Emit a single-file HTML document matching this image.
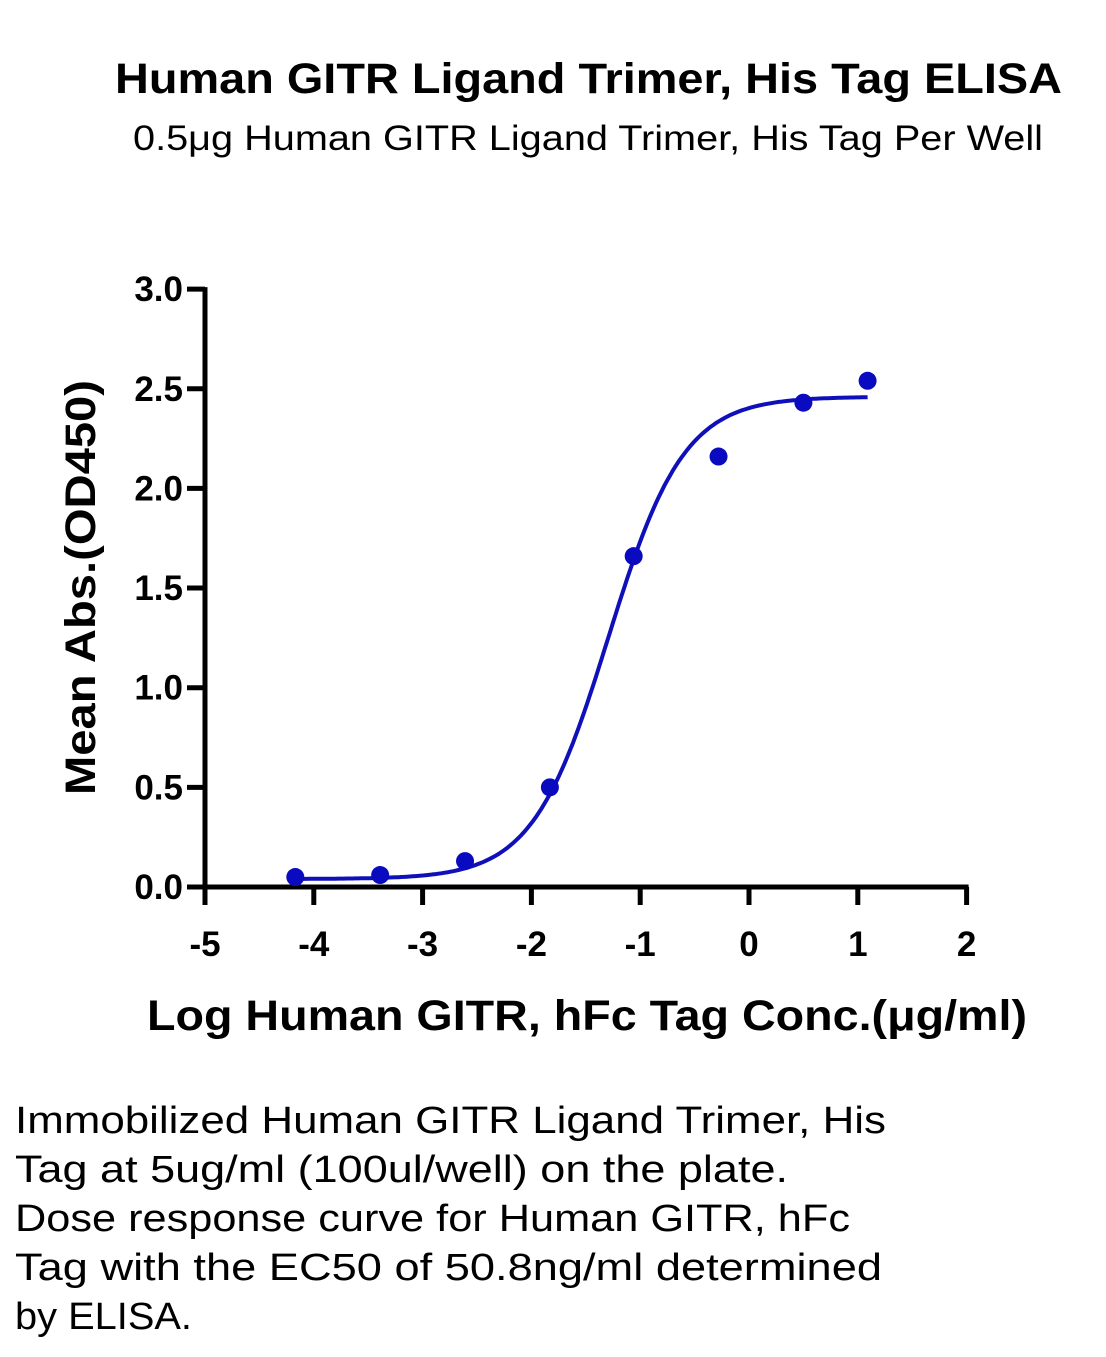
<!DOCTYPE html>
<html><head><meta charset="utf-8"><style>
body{margin:0;background:#fff;}
svg text{font-family:"Liberation Sans",sans-serif;}
</style></head><body>
<svg width="1106" height="1352" viewBox="0 0 1106 1352" xmlns="http://www.w3.org/2000/svg">
<text x="115" y="93" textLength="947" lengthAdjust="spacingAndGlyphs" font-size="43" font-weight="bold">Human GITR Ligand Trimer, His Tag ELISA</text>
<text x="133" y="150" textLength="910" lengthAdjust="spacingAndGlyphs" font-size="35">0.5μg Human GITR Ligand Trimer, His Tag Per Well</text>
<g id="axes"></g>
<g id="plot"></g>
<text x="147" y="1030" textLength="880" lengthAdjust="spacingAndGlyphs" font-size="43" font-weight="bold">Log Human GITR, hFc Tag Conc.(μg/ml)</text>
<text transform="translate(95,795) rotate(-90)" x="0" y="0" textLength="415" lengthAdjust="spacingAndGlyphs" font-size="43" font-weight="bold">Mean Abs.(OD450)</text>
<g font-size="38">
<text x="15" y="1133" textLength="871" lengthAdjust="spacingAndGlyphs">Immobilized Human GITR Ligand Trimer, His</text>
<text x="15" y="1182" textLength="773" lengthAdjust="spacingAndGlyphs">Tag at 5ug/ml (100ul/well) on the plate.</text>
<text x="15" y="1231" textLength="835" lengthAdjust="spacingAndGlyphs">Dose response curve for Human GITR, hFc</text>
<text x="15" y="1280" textLength="867" lengthAdjust="spacingAndGlyphs">Tag with the EC50 of 50.8ng/ml determined</text>
<text x="15" y="1329" textLength="177" lengthAdjust="spacingAndGlyphs">by ELISA.</text>
</g>
</svg>
<script>
const xTicks=[-5,-4,-3,-2,-1,0,1,2];
const yTicks=[0,0.5,1.0,1.5,2.0,2.5,3.0];
const yTickLabels=["0.0","0.5","1.0","1.5","2.0","2.5","3.0"];
const xValues=[-4.17,-3.39,-2.61,-1.83,-1.06,-0.28,0.50,1.09];
const yValues=[0.05,0.06,0.13,0.50,1.66,2.16,2.43,2.54];
const fitBottom=[0.04];
const fitTop=[2.46];
const fitLogEC50=[-1.294];
const fitHill=[1.25];
const NS="http://www.w3.org/2000/svg";
const X=v=>205+(v+5)*108.8;
const Y=v=>887-v*199.3;
const axes=document.getElementById('axes'),plot=document.getElementById('plot');
function mk(tag,attrs,parent){const e=document.createElementNS(NS,tag);for(const k in attrs)e.setAttribute(k,attrs[k]);parent.appendChild(e);return e;}
let l=mk('line',{x1:X(-5),y1:Y(0),x2:X(2)+2,y2:Y(0),stroke:'#000','stroke-width':5},axes);


l=mk('line',{x1:X(-5),y1:Y(0)+2,x2:X(-5),y2:Y(3)-2,stroke:'#000','stroke-width':5},axes);


xTicks.forEach(t=>{
 let e=mk('line',{x1:X(t),y1:Y(0),x2:X(t),y2:Y(0)+18,stroke:'#000','stroke-width':5},axes);
 
 
 let tx=mk('text',{x:X(t),y:956,'text-anchor':'middle','font-size':35,'font-weight':'bold'},axes);
 tx.textContent=String(t);
 
 
});
yTicks.forEach((t,i)=>{
 let e=mk('line',{x1:X(-5)-18,y1:Y(t),x2:X(-5),y2:Y(t),stroke:'#000','stroke-width':5},axes);
 
 
 let tx=mk('text',{x:183,y:Y(t)+12,'text-anchor':'end','font-size':35,'font-weight':'bold'},axes);
 tx.textContent=yTickLabels[i];
 
 
});
const f=x=>fitBottom[0]+(fitTop[0]-fitBottom[0])/(1+Math.pow(10,(fitLogEC50[0]-x)*fitHill[0]));
let d='';const x0=xValues[0],x1=xValues[xValues.length-1];
for(let i=0;i<=200;i++){const x=x0+(x1-x0)*i/200;d+=(i?'L':'M')+X(x).toFixed(1)+','+Y(f(x)).toFixed(1);}
let c=mk('path',{d:d,fill:'none',stroke:'#1010bb','stroke-width':4},plot);


xValues.forEach((x,i)=>{
 let p=mk('circle',{cx:X(x),cy:Y(yValues[i]),r:9,fill:'#0a0ac0'},plot);
 
 
});
</script>
</body></html>
